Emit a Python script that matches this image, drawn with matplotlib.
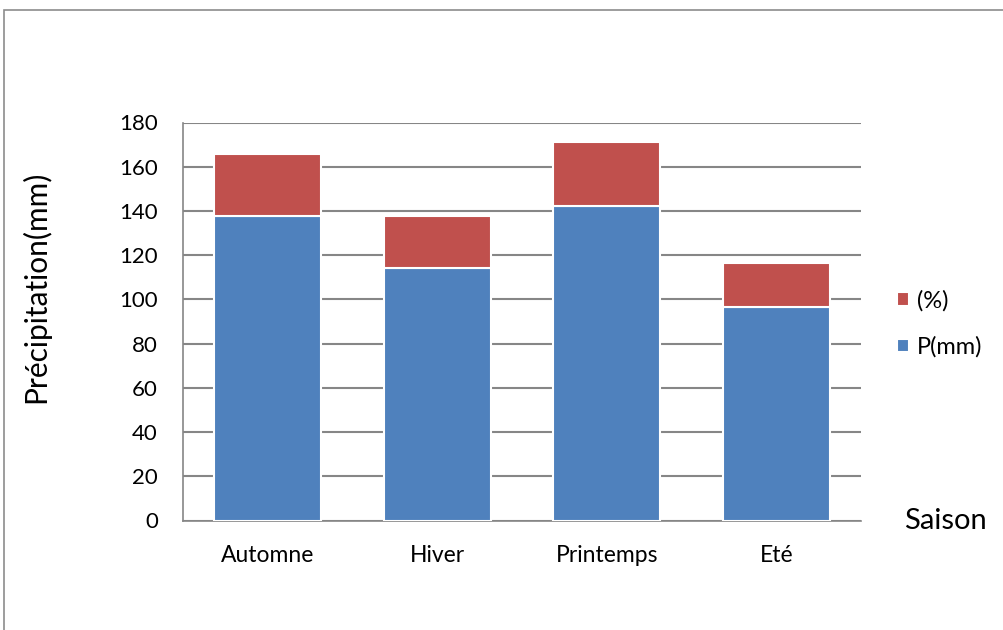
import matplotlib.pyplot as plt
import matplotlib.patches as mpatches
import numpy as np

seasons = ["Automne", "Hiver", "Printemps", "Eté"]
p_mm = [137.8, 114.2, 142.3, 96.6]
pct = [28.1, 23.3, 29.0, 19.7]

BLUE = "#4F81BD"
RED = "#C0504D"
GRID = "#868686"

plt.rcParams["font.family"] = ["Lato", "DejaVu Sans"]

W, H = 1004, 630
fig = plt.figure(figsize=(W / 100, H / 100), dpi=100)
ax = fig.add_axes([183 / W, 1 - 520.5 / H, 678 / W, 398 / H])

x = np.arange(len(seasons))
ax.bar(x, p_mm, width=0.634, color=BLUE, edgecolor="white", linewidth=1.5,
       label="P(mm)", zorder=3)
ax.bar(x, pct, width=0.634, bottom=p_mm, color=RED, edgecolor="white",
       linewidth=1.5, label="(%)", zorder=3)

ax.set_xlim(-0.5, len(seasons) - 0.5)
ax.set_ylim(0, 180)
ax.set_yticks(np.arange(0, 181, 20))
ax.set_xticks(x)
ax.set_xticklabels(seasons, fontsize=16.5)
ax.tick_params(axis="y", labelsize=16, length=0, pad=18)
ax.tick_params(axis="x", length=0, pad=18)
ax.yaxis.grid(True, color=GRID, linewidth=1.5, zorder=0)
for s in ["top", "right"]:
    ax.spines[s].set_visible(False)
for s in ["left", "bottom"]:
    ax.spines[s].set_color(GRID)
    ax.spines[s].set_linewidth(1.2)

ax.set_ylabel("Précipitation(mm)", fontsize=21.5)
ax.yaxis.set_label_coords(-133 / 678, 0.588)
fig.text(904 / W, 1 - 521 / H, "Saison", fontsize=21, va="center", ha="left")

handles, labels = ax.get_legend_handles_labels()
ax.legend(handles[::-1], labels[::-1], loc="center left",
          bbox_to_anchor=(897 / W, 1 - 324 / H), bbox_transform=fig.transFigure,
          frameon=False, fontsize=17, handlelength=0.5, handleheight=0.5,
          labelspacing=1.05, handletextpad=0.35, borderpad=0, borderaxespad=0)

# outer chart border (right and bottom edges are cut off)
fig.patches.append(mpatches.Rectangle((4 / W, -0.1), 1.2, 1 - 10 / H + 0.1,
                                      transform=fig.transFigure, fill=False,
                                      edgecolor="#8c8c8c", linewidth=1.2))

fig.savefig("out.png", dpi=100)
